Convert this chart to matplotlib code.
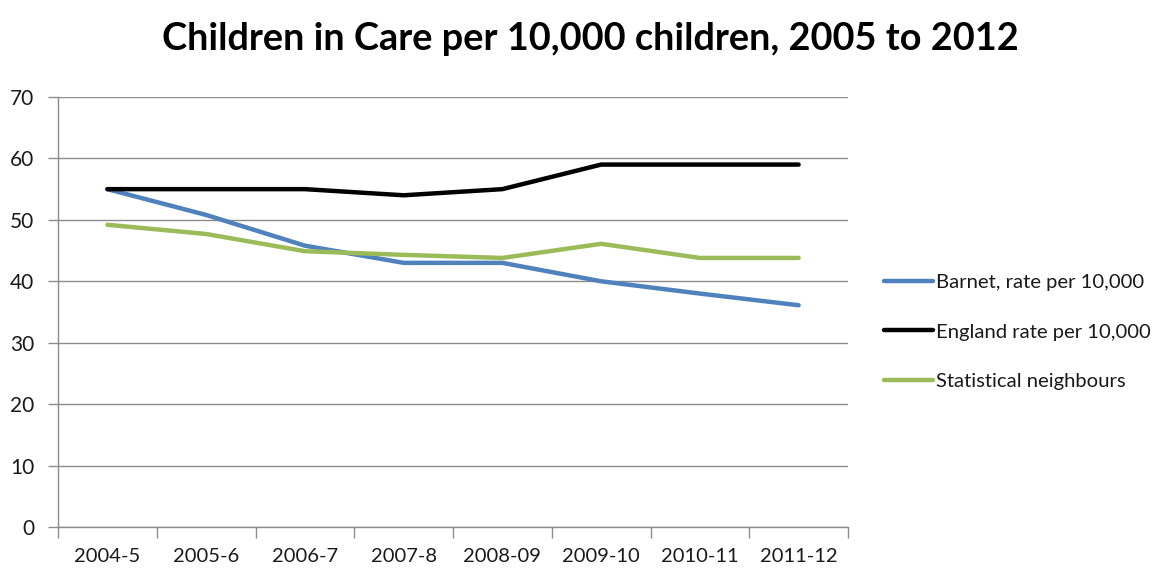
import matplotlib
matplotlib.use("Agg")
import matplotlib.pyplot as plt

plt.rcParams['font.family'] = ['Lato', 'DejaVu Sans']

years = ["2004-5", "2005-6", "2006-7", "2007-8", "2008-09", "2009-10", "2010-11", "2011-12"]
barnet = [55, 50.8, 45.8, 43, 43, 40, 38, 36.1]
england = [55, 55, 55, 54, 55, 59, 59, 59]
neighbours = [49.2, 47.7, 44.9, 44.3, 43.8, 46.1, 43.8, 43.8]

fig = plt.figure(figsize=(11.62, 5.70), dpi=100)
ax = fig.add_axes([58 / 1162, 43 / 570, 790 / 1162, 430 / 570])

x = list(range(len(years)))
ax.plot(x, barnet, color="#4F81BD", lw=3.2, label="Barnet, rate per 10,000", solid_capstyle="round")
ax.plot(x, england, color="#000000", lw=3.2, label="England rate per 10,000", solid_capstyle="round")
ax.plot(x, neighbours, color="#9BBB59", lw=3.2, label="Statistical neighbours", solid_capstyle="round")

ax.set_xlim(-0.5, len(years) - 0.5)
ax.set_ylim(0, 70)
ax.set_yticks(range(0, 71, 10))
ax.yaxis.grid(True, color="#8C8C8C", lw=1)
ax.set_axisbelow(True)

ax.set_xticks(x)
ax.set_xticklabels(years, fontsize=14.5, color="#1a1a1a")
ax.set_xticks([i - 0.5 for i in range(len(years) + 1)], minor=True)
ax.tick_params(axis="x", which="major", length=0, pad=15)
ax.tick_params(axis="x", which="minor", length=8, color="#8C8C8C", width=1)
ax.tick_params(axis="y", length=7, color="#8C8C8C", width=1, labelsize=15, labelcolor="#1a1a1a", pad=10)

for side in ("top", "right"):
    ax.spines[side].set_visible(False)
for side in ("left", "bottom"):
    ax.spines[side].set_color("#8C8C8C")
    ax.spines[side].set_linewidth(1)

fig.text(590 / 1162, 1 - 39 / 570, "Children in Care per 10,000 children, 2005 to 2012",
         ha="center", va="center", fontsize=27.3, fontweight="bold", color="#000000")

leg = fig.legend(loc="upper left", bbox_to_anchor=(876 / 1162, 1 - 266 / 570),
                 frameon=False, fontsize=14.6, handlelength=2.4, handletextpad=0.15,
                 labelspacing=1.58, borderaxespad=0)
for t in leg.get_texts():
    t.set_color("#1a1a1a")

fig.savefig("out.png", dpi=100)
